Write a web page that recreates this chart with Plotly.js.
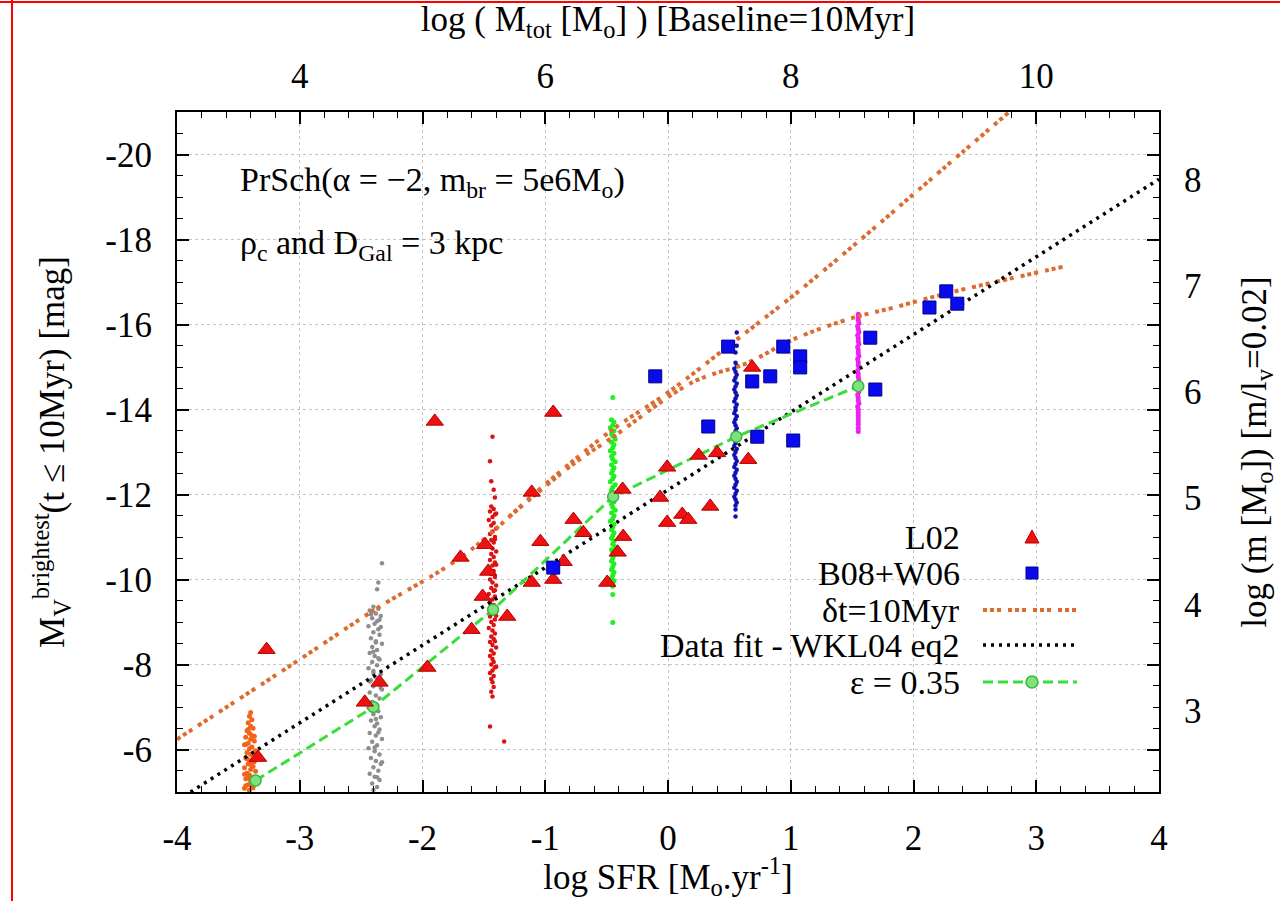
<!DOCTYPE html>
<html><head><meta charset="utf-8">
<script src="https://cdn.plot.ly/plotly-3.0.1.min.js"></script>
<style>html,body{margin:0;padding:0;background:#fff}</style>
</head><body><div id="chart" style="width:1280px;height:901px"></div>
<script>
// ---------------- data ----------------
// L02 observations (red triangles): log SFR, M_V
const l02X = [-3.34,-3.27,-2.47,-2.35,-1.96,-1.69,-1.90,-1.49,-1.465,-1.51,
              -1.31,-1.60,-1.11,-0.935,-1.04,-0.77,-0.69,-1.11,-0.935,-0.85,
              -0.495,-0.41,-0.365,-0.37,-0.064,-0.007,-0.007,0.116,0.165,0.25,
              0.40,0.344,0.654,0.686];
const l02Y = [-5.81,-8.35,-7.11,-7.58,-7.93,-10.52,-13.72,-10.82,-10.19,-9.60,
              -9.13,-8.82,-12.05,-13.93,-10.89,-11.41,-11.10,-9.93,-10.00,-10.42,
              -9.93,-10.64,-11.01,-12.12,-11.93,-12.64,-11.34,-11.53,-11.41,-12.92,
              -12.98,-11.72,-12.82,-14.99];
// B08+W06 observations (blue squares)
const bwX = [-0.935,-0.104,0.328,0.49,0.686,0.833,0.727,0.939,1.077,1.077,
             1.02,1.648,1.689,2.13,2.267,2.357];
const bwY = [-10.28,-14.78,-13.60,-15.48,-14.66,-14.78,-13.36,-15.48,-15.25,-14.99,
             -13.27,-15.69,-14.47,-16.40,-16.78,-16.49];
// delta t = 10 Myr model curves
const dtUpperX = [-4.0,-3.0,-2.4,-1.65,-1.0,-0.45,0.0,0.53,1.02,1.57,2.11,2.78];
const dtUpperY = [-6.24,-8.12,-9.27,-10.6,-12.24,-13.53,-14.4,-15.58,-16.68,-18.0,-19.34,-21.0];
const dtLowerX = [-1.3,-0.77,-0.45,0.2,0.65,1.02,1.51,1.84,2.24,2.65,3.25];
const dtLowerY = [-11.46,-12.72,-13.35,-14.64,-15.1,-15.65,-16.16,-16.4,-16.71,-16.99,-17.38];
// Data fit - WKL04 eq2
const fitX = [-3.89, 4.0];
const fitY = [-5.0, -19.42];
// epsilon = 0.35 model
const epsX = [-3.36,-2.40,-1.425,-0.447,0.556,1.55];
const epsY = [-5.27,-7.00,-9.29,-11.95,-13.36,-14.55];
// simulated brightest clusters at each SFR
const orangeX = [-3.40,-3.41,-3.39,-3.42,-3.40,-3.38,-3.43,-3.41,-3.39,-3.44,
                 -3.40,-3.37,-3.42,-3.45,-3.39,-3.41,-3.36,-3.43,-3.40,-3.38,
                 -3.44,-3.41,-3.37,-3.42,-3.39,-3.45,-3.40,-3.36,-3.43,-3.41,
                 -3.38,-3.44,-3.40,-3.37,-3.42,-3.39,-3.45,-3.41,-3.42,-3.44,
                 -3.36,-3.43,-3.38,-3.45,-3.36,-3.38,-3.37,-3.40,-3.42,-3.44];
const orangeY = [-6.87,-6.78,-6.70,-6.63,-6.55,-6.50,-6.44,-6.38,-6.33,-6.29,
                 -6.24,-6.20,-6.15,-6.11,-6.06,-6.02,-5.97,-5.93,-5.88,-5.84,
                 -5.80,-5.75,-5.71,-5.66,-5.62,-5.57,-5.53,-5.49,-5.44,-5.40,
                 -5.35,-5.31,-5.26,-5.22,-5.17,-5.13,-5.09,-5.04,-6.47,-6.12,
                 -5.95,-5.78,-5.60,-5.42,-5.25,-5.10,-6.31,-5.69,-5.33,-5.15];
const grayX = [-2.33,-2.36,-2.37,-2.40,-2.36,-2.43,-2.38,-2.34,-2.41,-2.37,
               -2.39,-2.44,-2.36,-2.40,-2.35,-2.42,-2.38,-2.33,-2.41,-2.37,
               -2.43,-2.39,-2.35,-2.41,-2.37,-2.44,-2.40,-2.34,-2.38,-2.42,
               -2.36,-2.40,-2.33,-2.43,-2.38,-2.35,-2.41,-2.39,-2.44,-2.36,
               -2.40,-2.34,-2.42,-2.37,-2.39,-2.35,-2.43,-2.38,-2.33,-2.41,
               -2.37,-2.44,-2.39,-2.35,-2.42,-2.38,-2.34,-2.40,-2.36,-2.43,
               -2.39,-2.35,-2.41,-2.37,-2.40,-2.42,-2.34,-2.38,-2.36,-2.40,
               -2.34,-2.42,-2.38,-2.36,-2.39,-2.33,-2.37,-2.35,-2.40,-2.43];
const grayY = [-10.38,-9.93,-9.77,-9.36,-9.31,-9.27,-9.20,-9.14,-9.09,-9.02,
               -8.96,-8.90,-8.83,-8.76,-8.70,-8.62,-8.55,-8.49,-8.41,-8.34,
               -8.27,-8.20,-8.12,-8.06,-7.98,-7.91,-7.85,-7.77,-7.70,-7.63,
               -7.55,-7.49,-7.41,-7.34,-7.27,-7.20,-7.12,-7.05,-6.98,-6.90,
               -6.83,-6.76,-6.68,-6.61,-6.55,-6.47,-6.39,-6.33,-6.25,-6.18,
               -6.10,-6.03,-5.96,-5.88,-5.80,-5.73,-5.66,-5.58,-5.50,-5.43,
               -5.36,-5.28,-5.20,-5.12,-5.05,-9.18,-8.88,-8.52,-8.15,-7.80,
               -7.45,-7.10,-6.72,-6.40,-6.05,-5.70,-5.35,-9.05,-8.30,-7.60];
const redX = [-1.43,-1.45,-1.44,-1.42,-1.41,-1.44,-1.42,-1.45,-1.41,-1.43,
              -1.46,-1.42,-1.44,-1.40,-1.43,-1.45,-1.41,-1.44,-1.42,-1.46,
              -1.43,-1.40,-1.44,-1.42,-1.45,-1.41,-1.43,-1.46,-1.42,-1.44,
              -1.41,-1.45,-1.43,-1.40,-1.44,-1.42,-1.46,-1.41,-1.43,-1.45,
              -1.42,-1.44,-1.40,-1.43,-1.45,-1.41,-1.44,-1.42,-1.46,-1.43,
              -1.41,-1.44,-1.42,-1.45,-1.43,-1.40,-1.44,-1.42,-1.45,-1.43,
              -1.42,-1.44,-1.41,-1.43,-1.45,-1.42,-1.44,-1.43,-1.42,-1.44,
              -1.43,-1.45,-1.335,-1.40,-1.41,-1.40,-1.41,-1.40,-1.41,-1.40];
const redY = [-13.36,-12.78,-12.31,-12.11,-11.93,-11.72,-11.66,-11.60,-11.53,-11.47,
              -11.40,-11.33,-11.27,-11.20,-11.13,-11.07,-11.00,-10.93,-10.87,-10.80,
              -10.73,-10.66,-10.60,-10.53,-10.46,-10.40,-10.33,-10.26,-10.20,-10.13,
              -10.06,-10.00,-9.93,-9.86,-9.80,-9.73,-9.66,-9.60,-9.53,-9.46,
              -9.40,-9.33,-9.26,-9.20,-9.13,-9.06,-9.00,-8.93,-8.86,-8.80,
              -8.73,-8.66,-8.60,-8.53,-8.46,-8.40,-8.33,-8.26,-8.20,-8.13,
              -8.06,-8.00,-7.93,-7.86,-7.80,-7.73,-7.66,-7.58,-7.47,-7.36,
              -7.25,-6.54,-6.19,-11.55,-10.95,-10.35,-9.75,-9.15,-8.55,-7.95];
const greenX = [-0.45,-0.46,-0.44,-0.45,-0.47,-0.44,-0.46,-0.45,-0.43,-0.46,
                -0.44,-0.45,-0.47,-0.44,-0.46,-0.45,-0.43,-0.46,-0.44,-0.45,
                -0.46,-0.44,-0.45,-0.47,-0.43,-0.45,-0.46,-0.44,-0.45,-0.46,
                -0.44,-0.46,-0.45,-0.43,-0.46,-0.44,-0.45,-0.47,-0.44,-0.45,
                -0.46,-0.44,-0.45,-0.46,-0.44,-0.45,-0.43,-0.46,-0.45,-0.44,
                -0.45,-0.46,-0.44,-0.45,-0.46,-0.44,-0.45,-0.46,-0.44,-0.45,
                -0.45,-0.45,-0.45];
const greenY = [-14.28,-13.76,-13.70,-13.63,-13.57,-13.50,-13.43,-13.37,-13.30,-13.23,
                -13.17,-13.10,-13.03,-12.97,-12.90,-12.83,-12.77,-12.70,-12.63,-12.57,
                -12.50,-12.43,-12.37,-12.30,-12.23,-12.17,-12.10,-12.03,-11.97,-11.90,
                -11.83,-11.77,-11.70,-11.63,-11.57,-11.50,-11.43,-11.37,-11.30,-11.23,
                -11.17,-11.10,-11.03,-10.97,-10.90,-10.83,-10.77,-10.70,-10.63,-10.57,
                -10.50,-10.43,-10.37,-10.30,-10.23,-10.17,-10.10,-10.03,-9.97,-9.90,
                -9.84,-9.65,-8.99];
const navyX = [0.56,0.56,0.55,0.55,0.56,0.54,0.55,0.56,0.55,0.54,
               0.56,0.55,0.54,0.55,0.56,0.55,0.54,0.56,0.55,0.55,
               0.54,0.56,0.55,0.54,0.55,0.56,0.55,0.54,0.56,0.55,
               0.55,0.54,0.56,0.55,0.54,0.55,0.56,0.55,0.54,0.56,
               0.55,0.54,0.55,0.56,0.55,0.54,0.56,0.55,0.54,0.55,
               0.56,0.55,0.55,0.55];
const navyY = [-15.81,-15.50,-15.34,-15.10,-15.03,-14.96,-14.89,-14.82,-14.75,-14.68,
               -14.61,-14.54,-14.47,-14.40,-14.33,-14.26,-14.19,-14.12,-14.05,-13.98,
               -13.91,-13.84,-13.77,-13.70,-13.63,-13.56,-13.49,-13.42,-13.35,-13.28,
               -13.21,-13.14,-13.07,-13.00,-12.93,-12.86,-12.79,-12.72,-12.65,-12.58,
               -12.51,-12.44,-12.37,-12.30,-12.23,-12.16,-12.09,-12.02,-11.95,-11.88,
               -11.81,-11.74,-11.65,-11.48];
const magX = [1.55,1.55,1.55,1.555,1.545,1.55,1.555,1.545,1.55,1.55,
              1.555,1.545,1.55,1.55,1.555,1.545,1.55,1.55,1.555,1.545,
              1.55,1.55,1.555,1.545,1.55,1.55,1.555,1.545,1.55,1.55,
              1.555,1.545,1.55,1.55,1.55,1.55,1.55,1.55,1.55,1.55];
const magY = [-16.24,-16.17,-16.10,-16.03,-15.96,-15.89,-15.82,-15.75,-15.68,-15.61,
              -15.54,-15.47,-15.40,-15.33,-15.26,-15.19,-15.12,-15.05,-14.98,-14.91,
              -14.84,-14.77,-14.70,-14.63,-14.56,-14.49,-14.42,-14.35,-14.28,-14.21,
              -14.14,-14.07,-14.00,-13.93,-13.86,-13.79,-13.72,-13.65,-13.56,-13.48];
// axis ranges / tick labels
const xRange = [-4, 4];
const xTicks = [-4, -3, -2, -1, 0, 1, 2, 3, 4];
const xTickText = ['-4', '-3', '-2', '-1', '0', '1', '2', '3', '4'];
const x2Range = [3, 11];          // log Mtot = log SFR + 7
const x2Ticks = [4, 6, 8, 10];
const yRange = [-5, -21];
const yTicks = [-6, -8, -10, -12, -14, -16, -18, -20];
const yTickText = ['-6', '-8', '-10', '-12', '-14', '-16', '-18', '-20'];
const y2Range = [2.233, 8.633];   // log m = 0.233 - 0.4 M_V
const y2Ticks = [3, 4, 5, 6, 7, 8];
const legendLabels = ['L02', 'B08+W06', 'δt=10Myr', 'Data fit - WKL04 eq2', 'ε = 0.35'];

// ---------------- style ----------------
const SERIF = 'Liberation Serif';
const ORANGE = '#de6a2e';
const GREEN = '#3ade3a';
const L = 177, R = 1159, T = 112, B = 792;
const PX = px => (px - L) / (R - L);
const PY = py => (B - py) / (B - T);

function cluster(x, y, color, size) {
  return {x, y, type: 'scatter', mode: 'markers', hoverinfo: 'skip',
          marker: {color, size, line: {width: 0}}};
}
const traces = [
  cluster(orangeX, orangeY, '#f2641e', 5),
  cluster(grayX, grayY, '#8e8e8e', 4.5),
  cluster(redX, redY, '#dd1111', 4.5),
  cluster(greenX, greenY, '#22ee22', 5),
  cluster(navyX, navyY, '#1010b0', 4.5),
  cluster(magX, magY, '#ee22ee', 5),
  {x: dtUpperX, y: dtUpperY, type: 'scatter', mode: 'lines', hoverinfo: 'skip', line: {color: ORANGE, width: 4, dash: '4px,3px,4px,3px,4px,7px', shape: 'spline'}},
  {x: dtLowerX, y: dtLowerY, type: 'scatter', mode: 'lines', hoverinfo: 'skip', line: {color: ORANGE, width: 4, dash: '4px,3px,4px,3px,4px,7px', shape: 'spline'}},
  {x: fitX, y: fitY, type: 'scatter', mode: 'lines', hoverinfo: 'skip', line: {color: '#000', width: 3.5, dash: '3px,5px'}},
  {x: epsX, y: epsY, type: 'scatter', mode: 'lines+markers', hoverinfo: 'skip', line: {color: GREEN, width: 3, dash: '10px,5px'},
   marker: {symbol: 'circle', size: 11, color: '#7fe07f', line: {color: '#33bb33', width: 1.5}}},
  {x: l02X, y: l02Y, type: 'scatter', mode: 'markers', hoverinfo: 'skip',
   marker: {symbol: 'triangle-up', size: 15, color: '#ee1111', line: {color: '#b00000', width: 1}}},
  {x: bwX, y: bwY, type: 'scatter', mode: 'markers', hoverinfo: 'skip',
   marker: {symbol: 'square', size: 13, color: '#0a0aee', line: {color: '#00008a', width: 1}}},
  {x: [], y: [], xaxis: 'x2', yaxis: 'y2', type: 'scatter', mode: 'markers'}
];

// legend (gnuplot style: text on the left, sample on the right)
const legY = [537, 573, 610, 645, 682];
const annotations = legendLabels.map((t, i) => ({
  text: t, xref: 'paper', yref: 'paper', x: PX(962), y: PY(legY[i]), align: 'right',
  xanchor: 'right', yanchor: 'middle', showarrow: false, font: {family: SERIF, size: 34, color: '#000000'}
}));
annotations.push({text: 'PrSch(α = −2, m<sub>br</sub> = 5e6M<sub>o</sub>)', xref: 'paper', yref: 'paper', align: 'left',
  x: PX(238), y: PY(182), xanchor: 'left', yanchor: 'middle', showarrow: false, font: {family: SERIF, size: 34, color: '#000000'}});
annotations.push({text: 'ρ<sub>c</sub> and D<sub>Gal</sub> = 3 kpc', xref: 'paper', yref: 'paper', align: 'left',
  x: PX(238), y: PY(245), xanchor: 'left', yanchor: 'middle', showarrow: false, font: {family: SERIF, size: 34, color: '#000000'}});

const lx0 = PX(983), lx1 = PX(1077), mx = 1032;
const shapes = [
  {type: 'path', xref: 'paper', yref: 'paper', fillcolor: '#ee1111', line: {color: '#b00000', width: 1},
   path: `M ${PX(mx-7)},${PY(legY[0]+6)} L ${PX(mx+7)},${PY(legY[0]+6)} L ${PX(mx)},${PY(legY[0]-7)} Z`},
  {type: 'rect', xref: 'paper', yref: 'paper', fillcolor: '#0a0aee', line: {color: '#00008a', width: 1},
   x0: PX(mx-6), x1: PX(mx+6), y0: PY(legY[1]+6), y1: PY(legY[1]-6)},
  {type: 'line', xref: 'paper', yref: 'paper', x0: lx0, x1: lx1, y0: PY(legY[2]), y1: PY(legY[2]),
   line: {color: ORANGE, width: 4, dash: '4px,3px,4px,3px,4px,7px'}},
  {type: 'line', xref: 'paper', yref: 'paper', x0: lx0, x1: lx1, y0: PY(legY[3]), y1: PY(legY[3]),
   line: {color: '#000', width: 3.5, dash: '3px,5px'}},
  {type: 'line', xref: 'paper', yref: 'paper', x0: lx0, x1: lx1, y0: PY(legY[4]), y1: PY(legY[4]),
   line: {color: GREEN, width: 3, dash: '10px,5px'}},
  {type: 'circle', xref: 'paper', yref: 'paper', fillcolor: '#7fe07f', line: {color: '#33bb33', width: 1.5},
   x0: PX(mx-6), x1: PX(mx+6), y0: PY(legY[4]+6), y1: PY(legY[4]-6)},
  // red frame of the picture
  {type: 'line', xref: 'paper', yref: 'paper', x0: PX(12), x1: PX(12), y0: PY(0), y1: PY(901),
   line: {color: '#ff0000', width: 2}},
  {type: 'line', xref: 'paper', yref: 'paper', x0: PX(0), x1: PX(1280), y0: PY(2), y1: PY(2),
   line: {color: '#ff0000', width: 2}}
];

const axBase = {showline: true, linecolor: '#000', linewidth: 2, zeroline: false,
  ticks: 'inside', ticklen: 12, tickwidth: 1.5, tickcolor: '#000', mirror: 'ticks',
  showgrid: true, gridcolor: '#c4c4c4', gridwidth: 1, griddash: 'dot',
  tickfont: {family: SERIF, size: 35, color: '#000000'}};

const layout = {
  width: 1280, height: 901,
  margin: {l: L, r: 1280 - R, t: T, b: 901 - B},
  paper_bgcolor: '#ffffff', plot_bgcolor: '#ffffff',
  showlegend: false,
  xaxis: Object.assign({}, axBase, {range: xRange, tickmode: 'array', tickvals: xTicks, ticktext: xTickText,
    minor: {dtick: 0.2, ticklen: 6, tickwidth: 1.2, tickcolor: '#000', ticks: 'inside', showgrid: false},
    ticklabelstandoff: 14,
    title: {text: 'log SFR [M<sub>o</sub>.yr<sup>-1</sup>]', font: {family: SERIF, size: 35, color: '#000000'}, standoff: 18}}),
  xaxis2: {overlaying: 'x', side: 'top', range: x2Range, tickmode: 'array', tickvals: x2Ticks, ticks: '',
    showgrid: false, showline: false, zeroline: false, ticklabelstandoff: 16,
    tickfont: {family: SERIF, size: 35, color: '#000000'},
    title: {text: 'log ( M<sub>tot</sub> [M<sub>o</sub>] ) [Baseline=10Myr]', font: {family: SERIF, size: 35, color: '#000000'}, standoff: 20}},
  yaxis: Object.assign({}, axBase, {range: yRange, tickmode: 'array', tickvals: yTicks, ticktext: yTickText,
    minor: {dtick: 0.5, ticklen: 6, tickwidth: 1.2, tickcolor: '#000', ticks: 'inside', showgrid: false},
    ticklabelstandoff: 16,
    title: {text: 'M<sub>V</sub><sup>brightest</sup>(t ≤ 10Myr) [mag]', font: {family: SERIF, size: 35, color: '#000000'}, standoff: 30}}),
  yaxis2: {overlaying: 'y', side: 'right', range: y2Range, tickmode: 'array', tickvals: y2Ticks, ticks: '',
    showgrid: false, showline: false, zeroline: false, ticklabelstandoff: 24,
    tickfont: {family: SERIF, size: 35, color: '#000000'},
    title: {text: 'log (m [M<sub>o</sub>]) [m/l<sub>v</sub>=0.02]', font: {family: SERIF, size: 35, color: '#000000'}, standoff: 40}},
  annotations, shapes
};

Plotly.newPlot('chart', traces, layout, {displayModeBar: false});
</script>
</body></html>
